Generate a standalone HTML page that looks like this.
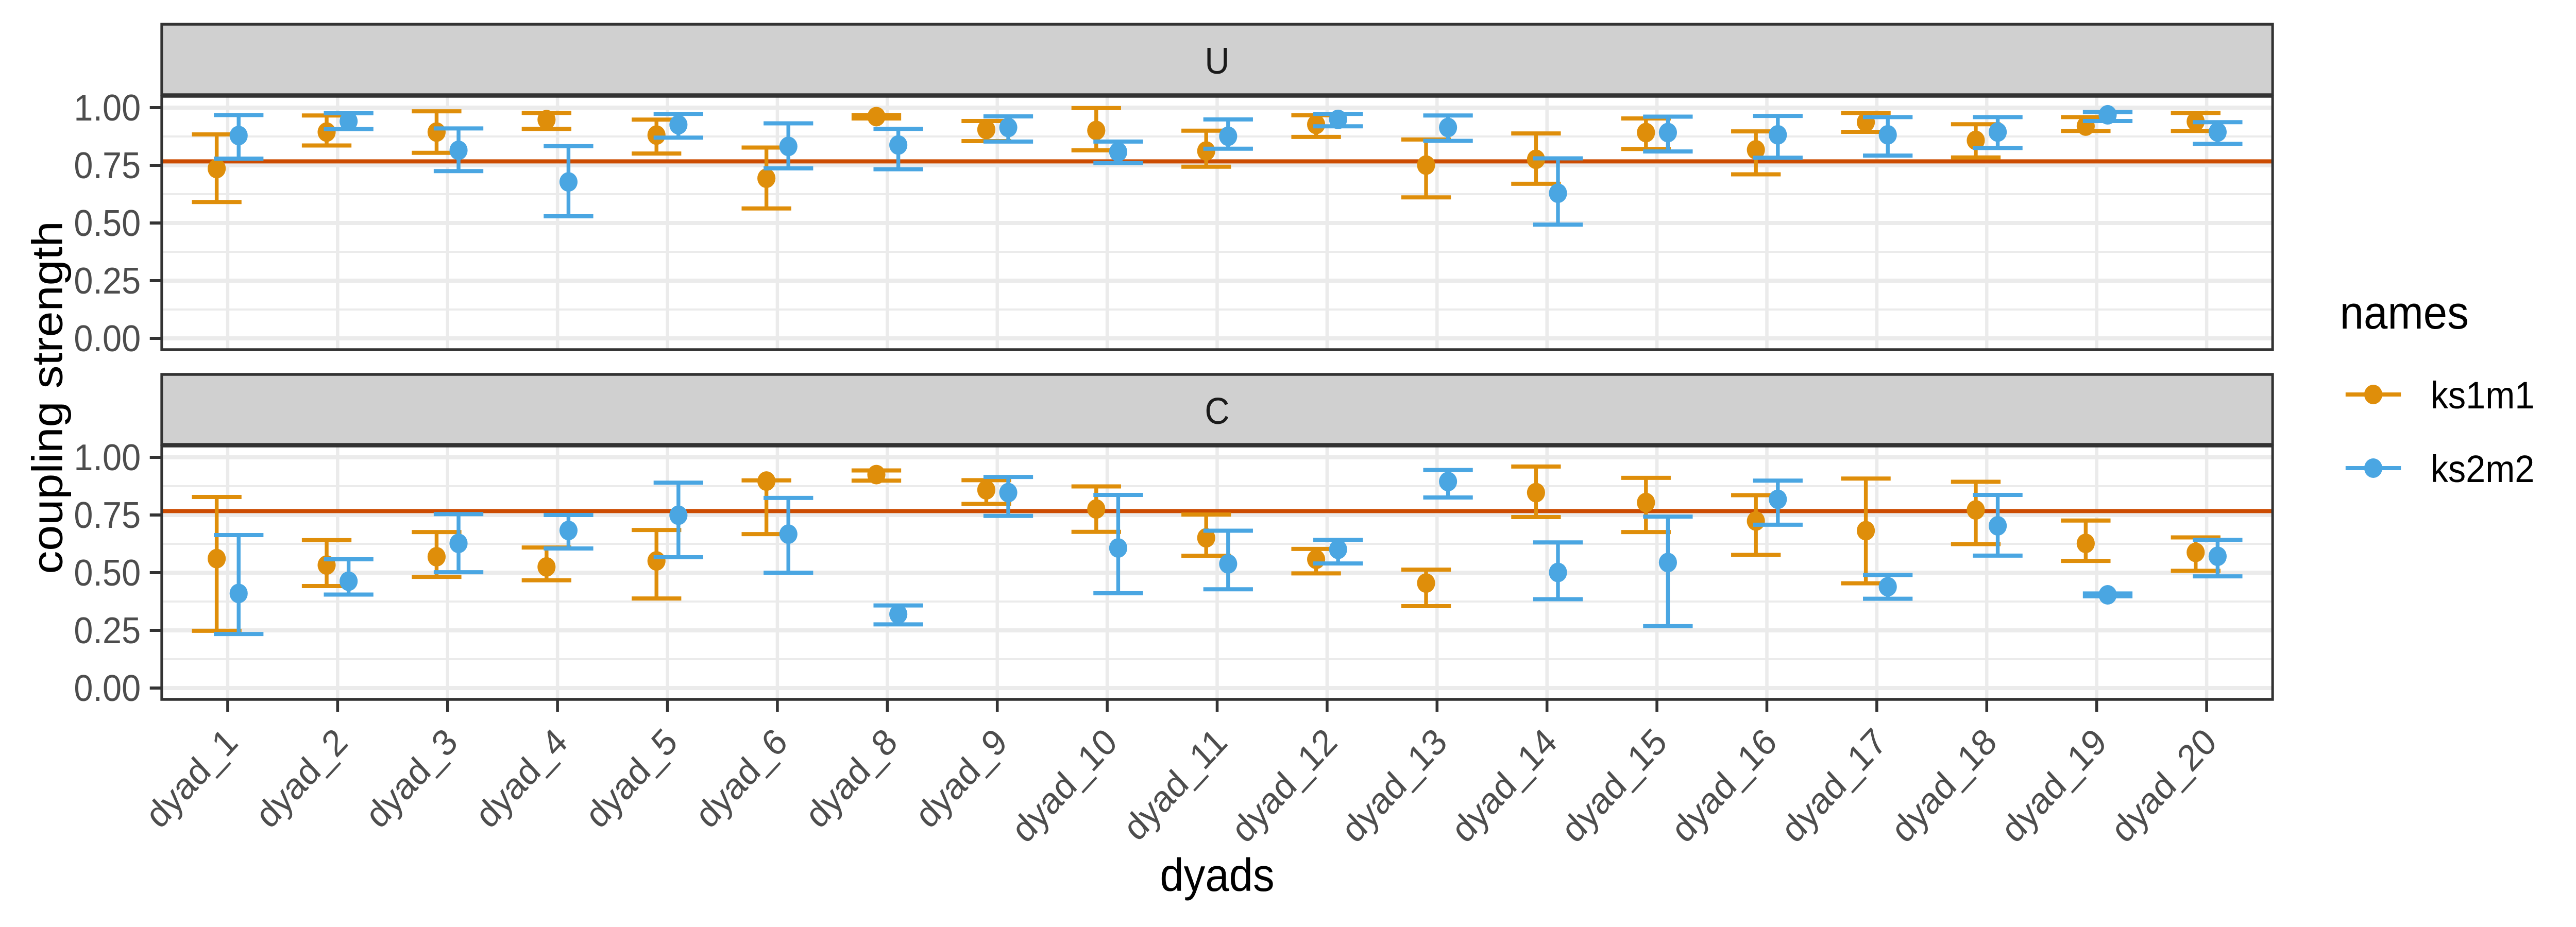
<!DOCTYPE html>
<html><head><meta charset="utf-8"><style>
html,body{margin:0;padding:0;background:#fff;overflow:hidden;width:100vw;height:100vh;}
svg{display:block;font-family:"Liberation Sans",Arial,sans-serif;width:100vw;height:100vh;}
</style></head><body>
<svg id="chart" viewBox="0 0 5400 1800" preserveAspectRatio="none" xmlns="http://www.w3.org/2000/svg">
<rect width="5400" height="1800" fill="#ffffff"/>
<g id="layers"></g>
</svg>
<script>
const categories = ["dyad_1","dyad_2","dyad_3","dyad_4","dyad_5","dyad_6","dyad_8","dyad_9","dyad_10","dyad_11","dyad_12","dyad_13","dyad_14","dyad_15","dyad_16","dyad_17","dyad_18","dyad_19","dyad_20"];
const facets = ["U","C"];
const seriesNames = ["ks1m1","ks2m2"];
const yTicks = [0, 0.25, 0.5, 0.75, 1];
const yTickLabels = ["0.00","0.25","0.50","0.75","1.00"];
const refLine = 0.767;
// Facet U
const uKs1m1Mean = [0.736,0.894,0.894,0.948,0.881,0.694,0.961,0.905,0.901,0.812,0.927,0.751,0.776,0.892,0.817,0.937,0.858,0.920,0.940];
const uKs1m1Lo   = [0.591,0.836,0.804,0.908,0.801,0.563,0.953,0.855,0.815,0.744,0.873,0.611,0.670,0.821,0.711,0.895,0.784,0.899,0.899];
const uKs1m1Hi   = [0.884,0.966,0.984,0.977,0.948,0.827,0.968,0.942,0.998,0.900,0.967,0.862,0.888,0.953,0.897,0.977,0.928,0.959,0.977];
const uKs2m2Mean = [0.879,0.941,0.815,0.678,0.926,0.832,0.838,0.914,0.808,0.876,0.949,0.914,0.629,0.892,0.882,0.882,0.894,0.969,0.894];
const uKs2m2Lo   = [0.779,0.907,0.725,0.529,0.870,0.737,0.733,0.853,0.760,0.822,0.919,0.856,0.493,0.810,0.783,0.792,0.825,0.942,0.843];
const uKs2m2Hi   = [0.968,0.976,0.910,0.833,0.973,0.932,0.908,0.962,0.853,0.949,0.973,0.966,0.780,0.961,0.964,0.959,0.959,0.981,0.937];
// Facet C
const cKs1m1Mean = [0.561,0.533,0.569,0.525,0.551,0.897,0.925,0.859,0.776,0.651,0.558,0.455,0.847,0.804,0.724,0.682,0.772,0.627,0.588];
const cKs1m1Lo   = [0.248,0.442,0.482,0.467,0.388,0.667,0.899,0.798,0.677,0.573,0.497,0.355,0.741,0.676,0.577,0.454,0.624,0.551,0.508];
const cKs1m1Hi   = [0.828,0.641,0.676,0.609,0.685,0.900,0.943,0.901,0.874,0.752,0.603,0.513,0.960,0.911,0.836,0.908,0.894,0.726,0.653];
const cKs2m2Mean = [0.410,0.463,0.627,0.683,0.749,0.667,0.320,0.847,0.607,0.538,0.601,0.895,0.501,0.544,0.818,0.439,0.703,0.404,0.571];
const cKs2m2Lo   = [0.234,0.405,0.502,0.605,0.567,0.500,0.276,0.746,0.411,0.428,0.540,0.826,0.385,0.268,0.708,0.387,0.574,0.398,0.484];
const cKs2m2Hi   = [0.663,0.558,0.754,0.750,0.890,0.824,0.358,0.915,0.837,0.682,0.642,0.945,0.631,0.743,0.899,0.490,0.837,0.410,0.642];

const NS = "http://www.w3.org/2000/svg";
const root = document.getElementById("layers");
const colors = ["#DF8E0A","#4AA6E2"];
const PL = 339, PR = 4764;
const panels = [{stripTop:47, top:187, zero:657, bottom:679},{stripTop:727, top:866, zero:1336, bottom:1358}];
const PX = 448;
function xScale(i){ return PL + (PR-PL)*(i+0.6)/(categories.length+0.2); }
function yScale(p, v){ return panels[p].zero - v*PX; }
function mk(tag, attrs, parent){ const e=document.createElementNS(NS,tag); for(const k in attrs) e.setAttribute(k, attrs[k]); (parent||root).appendChild(e); return e; }

const data = [
  [[uKs1m1Mean,uKs1m1Lo,uKs1m1Hi],[uKs2m2Mean,uKs2m2Lo,uKs2m2Hi]],
  [[cKs1m1Mean,cKs1m1Lo,cKs1m1Hi],[cKs2m2Mean,cKs2m2Lo,cKs2m2Hi]]
];

panels.forEach((P, p) => {
  const g = mk("g", {});
  
  
  const strip = mk("rect", {x:PL, y:P.stripTop, width:PR-PL, height:P.top-P.stripTop-3, fill:"#D0D0D0", stroke:"#333333", "stroke-width":5.5}, g);
  
  
  const st = mk("text", {x:(PL+PR)/2, y:P.stripTop+96, "text-anchor":"middle", "font-size":72, fill:"#1A1A1A"}, g);
  st.textContent = facets[p];
  
  
  for (let k=0;k<4;k++){
    const v = yTicks[k]+0.125;
    const ml = mk("line", {x1:PL, x2:PR, y1:yScale(p,v), y2:yScale(p,v), stroke:"#EBEBEB", "stroke-width":4}, g);
    
    
  }
  yTicks.forEach((v,k) => {
    const gl = mk("line", {x1:PL, x2:PR, y1:yScale(p,v), y2:yScale(p,v), stroke:"#EBEBEB", "stroke-width":8}, g);
    
    
    const tk = mk("line", {x1:314, x2:PL, y1:yScale(p,v), y2:yScale(p,v), stroke:"#333333", "stroke-width":6}, g);
    
    
    const tl = mk("text", {x:295, y:yScale(p,v)+25, "text-anchor":"end", "font-size":72, fill:"#4D4D4D"}, g);
    tl.textContent = yTickLabels[k];
    
    
  });
  categories.forEach((c,i) => {
    const vl = mk("line", {x1:xScale(i), x2:xScale(i), y1:P.top, y2:P.bottom, stroke:"#EBEBEB", "stroke-width":7}, g);
    
    
  });
  const rl = mk("line", {x1:PL, x2:PR, y1:yScale(p,refLine), y2:yScale(p,refLine), stroke:"#CC4C02", "stroke-width":8}, g);
  
  
  [0,1].forEach(s => {
    const [mean, lo, hi] = data[p][s];
    const off = s===0 ? -23 : 23;
    categories.forEach((c,i) => {
      const cx = xScale(i)+off;
      const eb = mk("path", {d:`M${cx-52},${yScale(p,hi[i])}H${cx+52}M${cx},${yScale(p,hi[i])}V${yScale(p,lo[i])}M${cx-52},${yScale(p,lo[i])}H${cx+52}`, stroke:colors[s], "stroke-width":8, fill:"none"}, g);
      
      
      const pt = mk("circle", {cx:cx, cy:yScale(p,mean[i]), r:19, fill:colors[s]}, g);
      
      
    });
  });
  const border = mk("rect", {x:PL, y:P.top, width:PR-PL, height:P.bottom-P.top, fill:"none", stroke:"#333333", "stroke-width":5.5}, g);
  
  
});

categories.forEach((c,i) => {
  const x = xScale(i);
  const t = mk("line", {x1:x, x2:x, y1:1358, y2:1382, stroke:"#333333", "stroke-width":6});
  
  
  const l = mk("text", {x:x+25, y:1445, "text-anchor":"end", "font-size":72, fill:"#4D4D4D", transform:`rotate(-45 ${x+25} 1445)`});
  l.textContent = c;
  
  
});
const xt = mk("text", {x:(PL+PR)/2, y:1730, "text-anchor":"middle", "font-size":90, fill:"#000"});
xt.textContent = "dyads";


const yt = mk("text", {x:0, y:0, "text-anchor":"middle", "font-size":90, fill:"#000", transform:"translate(130 772) rotate(-90)"});
yt.textContent = "coupling strength";



const lg = mk("g", {});


const ltitle = mk("text", {x:4905, y:638, "font-size":90, fill:"#000"}, lg);
ltitle.textContent = "names";


seriesNames.forEach((n,s) => {
  const y = s===0 ? 766 : 909;
  const e = mk("g", {}, lg);
  
  
  mk("line", {x1:4917, x2:5033, y1:y, y2:y, stroke:colors[s], "stroke-width":8}, e);
  mk("circle", {cx:4975, cy:y, r:19, fill:colors[s]}, e);
  const t = mk("text", {x:5095, y:y+27, "font-size":74, fill:"#000"}, e);
  t.textContent = n;
});
</script>
</body></html>
